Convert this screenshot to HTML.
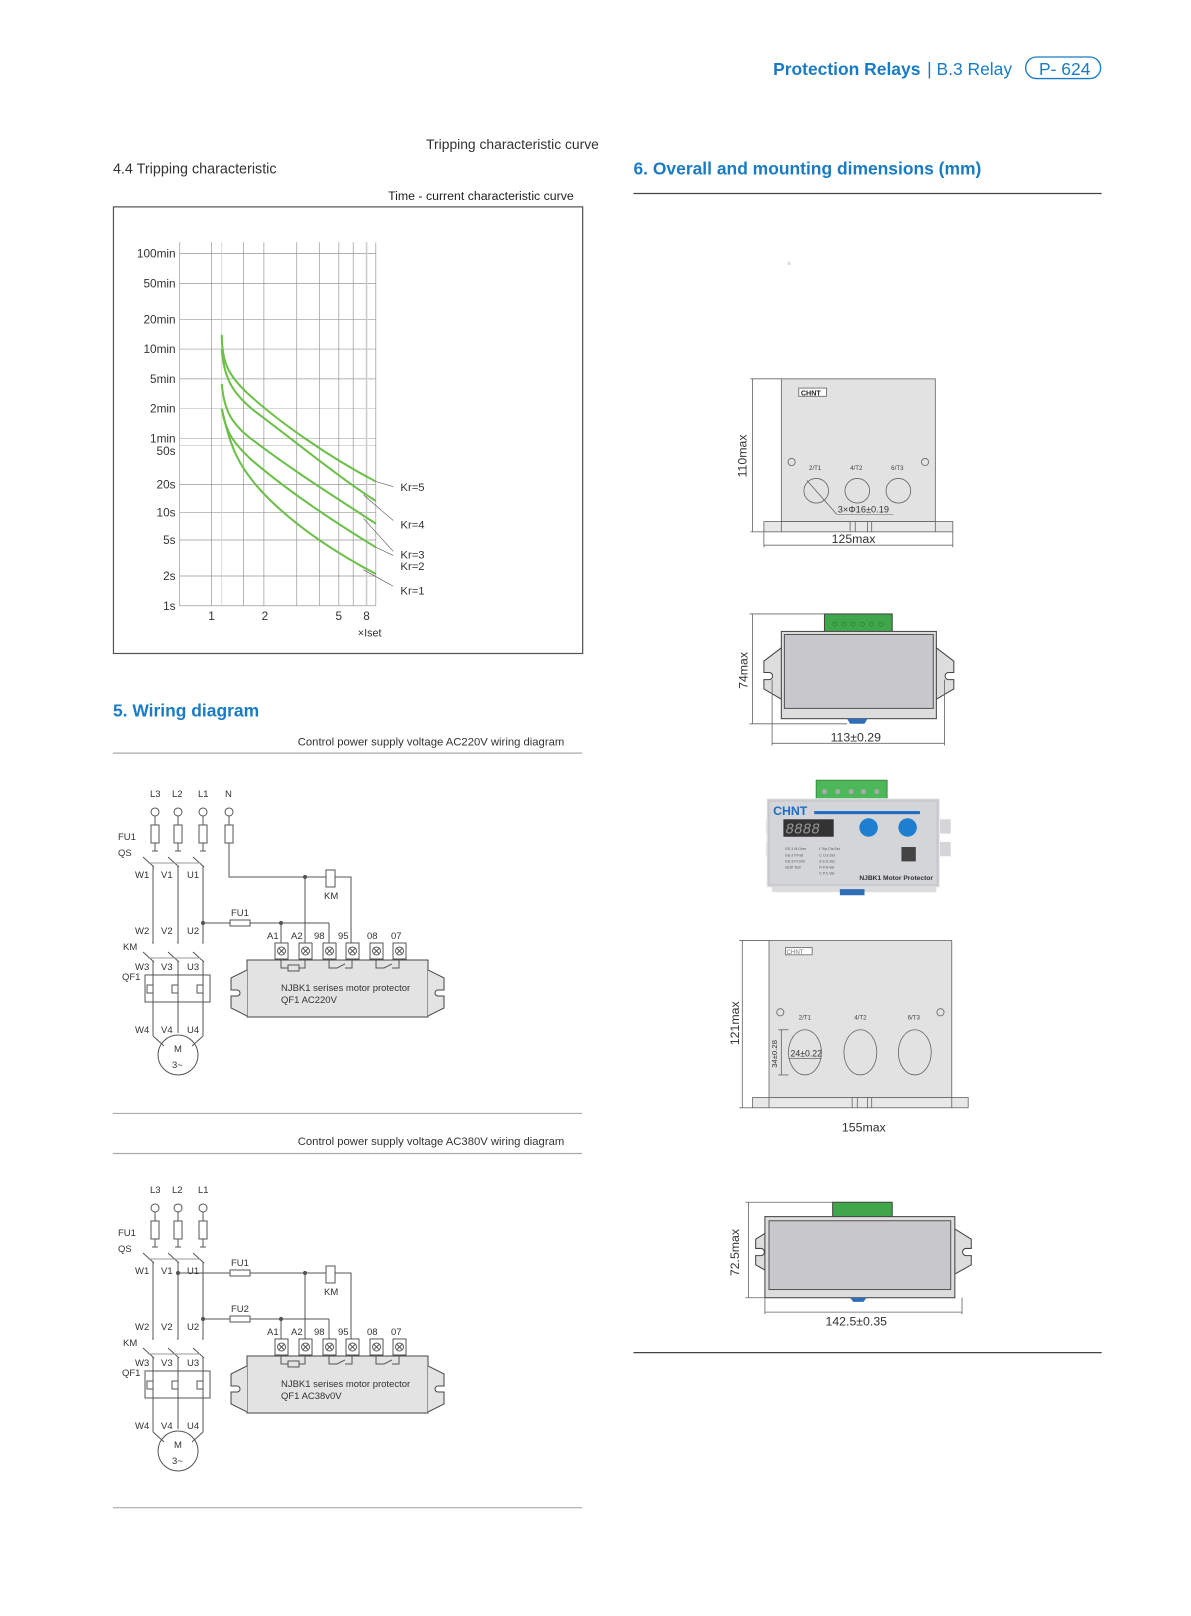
<!DOCTYPE html>
<html><head><meta charset="utf-8"><style>
html,body{margin:0;padding:0;background:#fff;}
svg{display:block;font-family:"Liberation Sans",sans-serif;}
</style></head><body>
<svg width="1191" height="1616" viewBox="0 0 1160 1574" xmlns="http://www.w3.org/2000/svg">
<defs>
<g id="wire" fill="none" stroke="#555" stroke-width="1">
  <circle cx="155" cy="812" r="4"/><circle cx="178" cy="812" r="4"/><circle cx="203" cy="812" r="4"/>
  <line x1="155" y1="816" x2="155" y2="825"/><line x1="178" y1="816" x2="178" y2="825"/><line x1="203" y1="816" x2="203" y2="825"/>
  <rect x="151" y="825" width="8" height="18"/><rect x="174" y="825" width="8" height="18"/><rect x="199" y="825" width="8" height="18"/>
  <line x1="155" y1="843" x2="155" y2="851"/><line x1="178" y1="843" x2="178" y2="851"/><line x1="203" y1="843" x2="203" y2="851"/>
  <line x1="152" y1="851" x2="158" y2="851"/><line x1="175" y1="851" x2="181" y2="851"/><line x1="200" y1="851" x2="206" y2="851"/>
  <line x1="143" y1="857" x2="154" y2="867"/><line x1="168" y1="857" x2="179" y2="867"/><line x1="193" y1="857" x2="204" y2="867"/>
  <line x1="148" y1="863" x2="200" y2="863" stroke="#999"/>
  <line x1="153" y1="866" x2="153" y2="940"/><line x1="178" y1="866" x2="178" y2="940"/><line x1="203" y1="866" x2="203" y2="940"/>
  <path d="M153 940 v3 h-1 M178 940 v3 h-1 M203 940 v3 h-1"/>
  <line x1="143" y1="952" x2="154" y2="962"/><line x1="168" y1="952" x2="179" y2="962"/><line x1="193" y1="952" x2="204" y2="962"/>
  <line x1="148" y1="958" x2="200" y2="958" stroke="#999"/>
  <line x1="153" y1="961" x2="153" y2="1036"/><line x1="178" y1="961" x2="178" y2="1033"/><line x1="203" y1="961" x2="203" y2="1036"/>
  <rect x="145" y="975" width="65" height="27"/>
  <path d="M153 985 h-6 v8 h6 M178 985 h-6 v8 h6 M203 985 h-6 v8 h6" />
  <path d="M153 1036 L164 1046 M203 1036 L192 1046"/>
  <circle cx="178" cy="1055" r="20"/>
  <circle cx="203" cy="923" r="1.6" fill="#555"/>
  <line x1="203" y1="923" x2="230" y2="923"/>
  <rect x="230" y="920" width="20" height="6"/>
  <line x1="250" y1="923" x2="329" y2="923"/>
  <line x1="329" y1="923" x2="329" y2="943"/>
  <circle cx="281" cy="923" r="1.6" fill="#555"/>
  <line x1="281" y1="923" x2="281" y2="943"/>
  <line x1="305" y1="877" x2="305" y2="943"/>
  <circle cx="305" cy="877" r="1.6" fill="#555"/>
  <rect x="326" y="870" width="9" height="17"/>
  <path d="M335 877 h16 v66"/>
  <g>
   <rect x="275" y="943" width="13" height="16"/><circle cx="281.5" cy="951" r="4"/><path d="M279 948.5l5 5M284 948.5l-5 5"/>
   <rect x="299" y="943" width="13" height="16"/><circle cx="305.5" cy="951" r="4"/><path d="M303 948.5l5 5M308 948.5l-5 5"/>
   <rect x="323" y="943" width="13" height="16"/><circle cx="329.5" cy="951" r="4"/><path d="M327 948.5l5 5M332 948.5l-5 5"/>
   <rect x="346" y="943" width="13" height="16"/><circle cx="352.5" cy="951" r="4"/><path d="M350 948.5l5 5M355 948.5l-5 5"/>
   <rect x="370" y="943" width="13" height="16"/><circle cx="376.5" cy="951" r="4"/><path d="M374 948.5l5 5M379 948.5l-5 5"/>
   <rect x="393" y="943" width="13" height="16"/><circle cx="399.5" cy="951" r="4"/><path d="M397 948.5l5 5M402 948.5l-5 5"/>
  </g>
  <path d="M247 960 H428 V1017 H247 Z" fill="#e3e3e3" stroke="#444"/>
  <path d="M247 970 L231 978 V990 h6 a3 3 0 0 1 0 6 h-6 V1008 L247 1016" fill="#e3e3e3" stroke="#444"/>
  <path d="M428 970 L444 978 V990 h-6 a3 3 0 0 0 0 6 h6 V1008 L428 1016" fill="#e3e3e3" stroke="#444"/>
  <path d="M281 959 v9 h7 M299 968 h6 v-9"/><rect x="288" y="965" width="11" height="6"/>
  <path d="M329 959 v9 h8 l8 -4 M345 968 h7 v-9"/>
  <path d="M376 959 v9 h8 l8 -4 M392 968 h7 v-9"/>
</g>
</defs>

<text x="753" y="73" font-size="17" font-weight="bold" fill="#1a7bc4">Protection Relays</text>
<text x="903" y="73" font-size="17" fill="#1a7bc4">| B.3 Relay</text>
<rect x="999" y="55.5" width="73" height="21" rx="10.5" fill="none" stroke="#1a7bc4" stroke-width="1.3"/>
<text x="1012" y="73" font-size="17" fill="#1a7bc4">P- 624</text>

<text x="415" y="145" font-size="13.5" fill="#333">Tripping characteristic curve</text>
<text x="110" y="169" font-size="14" fill="#333">4.4 Tripping characteristic</text>
<text x="378" y="195" font-size="12" fill="#222">Time - current characteristic curve</text>
<rect x="110.5" y="201.5" width="457" height="435" fill="none" stroke="#555" stroke-width="1.2"/>

<g stroke="#999" stroke-width="0.7">
 <line x1="175" y1="247" x2="366" y2="247"/><line x1="175" y1="276" x2="366" y2="276"/>
 <line x1="175" y1="311" x2="366" y2="311"/><line x1="175" y1="340" x2="366" y2="340"/>
 <line x1="175" y1="369" x2="366" y2="369"/><line x1="175" y1="398" x2="366" y2="398" stroke="#ccc"/>
 <line x1="175" y1="427" x2="366" y2="427" stroke="#bbb"/><line x1="175" y1="434" x2="366" y2="434" stroke="#ccc"/>
 <line x1="175" y1="472" x2="366" y2="472"/><line x1="175" y1="499" x2="366" y2="499"/>
 <line x1="175" y1="526" x2="366" y2="526"/><line x1="175" y1="561" x2="366" y2="561"/>
 <line x1="175" y1="590" x2="366" y2="590"/>
 <line x1="175" y1="236" x2="175" y2="590"/><line x1="206" y1="236" x2="206" y2="590"/>
 <line x1="216" y1="236" x2="216" y2="590" stroke="#ccc"/>
 <line x1="237" y1="236" x2="237" y2="590"/><line x1="257" y1="236" x2="257" y2="590"/>
 <line x1="289" y1="236" x2="289" y2="590"/><line x1="311" y1="236" x2="311" y2="590"/>
 <line x1="330" y1="236" x2="330" y2="590"/><line x1="344" y1="236" x2="344" y2="590"/>
 <line x1="357" y1="236" x2="357" y2="590" stroke="#ccc" stroke-width="1.5"/>
 <line x1="366" y1="236" x2="366" y2="590"/>
</g>
<g font-size="11.5" fill="#333" text-anchor="end">
 <text x="171" y="251">100min</text><text x="171" y="280">50min</text><text x="171" y="315">20min</text>
 <text x="171" y="344">10min</text><text x="171" y="373">5min</text><text x="171" y="402">2min</text>
 <text x="171" y="431">1min</text><text x="171" y="443">50s</text><text x="171" y="476">20s</text>
 <text x="171" y="503">10s</text><text x="171" y="530">5s</text><text x="171" y="565">2s</text><text x="171" y="594">1s</text>
</g>
<g font-size="11.5" fill="#333" text-anchor="middle">
 <text x="206" y="604">1</text><text x="258" y="604">2</text><text x="330" y="604">5</text><text x="357" y="604">8</text>
 <text x="360" y="620" font-size="10.5">×Iset</text>
</g>
<g fill="none" stroke="#6cc04a" stroke-width="2">
 <path d="M216 326 C216 352 222 365 240 382 C270 410 320 445 366 469"/>
 <path d="M216 340 C218 370 228 385 250 402 C285 428 330 465 366 488"/>
 <path d="M216 374 C218 400 226 414 248 430 C285 458 320 480 366 510"/>
 <path d="M216 398 C220 422 228 432 245 448 C280 478 320 505 366 533"/>
 <path d="M216 398 C224 435 232 455 258 482 C290 515 330 540 366 559"/>
</g>
<g stroke="#555" stroke-width="0.6">
 <line x1="366" y1="469" x2="383" y2="474"/>
 <line x1="354" y1="482" x2="383" y2="507"/>
 <line x1="354" y1="505" x2="383" y2="537"/>
 <line x1="366" y1="533" x2="383" y2="541"/>
 <line x1="354" y1="555" x2="383" y2="571"/>
</g>
<g font-size="11" fill="#333">
 <text x="390" y="478">Kr=5</text><text x="390" y="515">Kr=4</text>
 <text x="390" y="544">Kr=3</text><text x="390" y="555">Kr=2</text><text x="390" y="579">Kr=1</text>
</g>

<text x="110" y="698" font-size="17" font-weight="bold" fill="#1a7bc4">5. Wiring diagram</text>
<text x="290" y="726" font-size="11" fill="#333">Control power supply voltage AC220V wiring diagram</text>
<text x="290" y="1115" font-size="11" fill="#333">Control power supply voltage AC380V wiring diagram</text>
<g stroke="#aaa" stroke-width="1.2">
 <line x1="110" y1="733.5" x2="567" y2="733.5"/><line x1="110" y1="1084.5" x2="567" y2="1084.5"/>
 <line x1="110" y1="1123.5" x2="567" y2="1123.5"/><line x1="110" y1="1468.5" x2="567" y2="1468.5"/>
</g>

<g transform="scale(0.974)">
 <use href="#wire"/>
 <g fill="none" stroke="#555">
  <circle cx="229" cy="812" r="4"/><line x1="229" y1="816" x2="229" y2="825"/>
  <rect x="225" y="825" width="8" height="18"/>
  <path d="M229 843 V877 H326"/>
 </g>
 <g font-size="9.5" fill="#333">
  <text x="150" y="797">L3</text><text x="172" y="797">L2</text><text x="198" y="797">L1</text><text x="225" y="797">N</text>
  <text x="118" y="840">FU1</text><text x="118" y="856">QS</text>
  <text x="135" y="878">W1</text><text x="161" y="878">V1</text><text x="187" y="878">U1</text>
  <text x="324" y="899">KM</text><text x="231" y="916">FU1</text>
  <text x="135" y="934">W2</text><text x="161" y="934">V2</text><text x="187" y="934">U2</text>
  <text x="123" y="950">KM</text>
  <text x="135" y="970">W3</text><text x="161" y="970">V3</text><text x="187" y="970">U3</text>
  <text x="122" y="980">QF1</text>
  <text x="135" y="1033">W4</text><text x="161" y="1033">V4</text><text x="187" y="1033">U4</text>
  <text x="174" y="1052">M</text><text x="172" y="1068">3~</text>
  <text x="267" y="939">A1</text><text x="291" y="939">A2</text><text x="314" y="939">98</text><text x="338" y="939">95</text><text x="367" y="939">08</text><text x="391" y="939">07</text>
  <text x="281" y="991">NJBK1 serises motor protector</text><text x="281" y="1003">QF1  AC220V</text>
 </g>

 <g transform="translate(0,396)">
  <use href="#wire"/>
  <g fill="none" stroke="#555">
   <circle cx="178" cy="877" r="1.6" fill="#555"/>
   <line x1="178" y1="877" x2="230" y2="877"/>
   <rect x="230" y="874" width="20" height="6"/>
   <line x1="250" y1="877" x2="326" y2="877"/>
  </g>
  <g font-size="9.5" fill="#333">
   <text x="150" y="797">L3</text><text x="172" y="797">L2</text><text x="198" y="797">L1</text>
   <text x="118" y="840">FU1</text><text x="118" y="856">QS</text>
   <text x="135" y="878">W1</text><text x="161" y="878">V1</text><text x="187" y="878">U1</text>
   <text x="231" y="870">FU1</text>
   <text x="324" y="899">KM</text><text x="231" y="916">FU2</text>
   <text x="135" y="934">W2</text><text x="161" y="934">V2</text><text x="187" y="934">U2</text>
   <text x="123" y="950">KM</text>
   <text x="135" y="970">W3</text><text x="161" y="970">V3</text><text x="187" y="970">U3</text>
   <text x="122" y="980">QF1</text>
   <text x="135" y="1033">W4</text><text x="161" y="1033">V4</text><text x="187" y="1033">U4</text>
   <text x="174" y="1052">M</text><text x="172" y="1068">3~</text>
   <text x="267" y="939">A1</text><text x="291" y="939">A2</text><text x="314" y="939">98</text><text x="338" y="939">95</text><text x="367" y="939">08</text><text x="391" y="939">07</text>
   <text x="281" y="991">NJBK1 serises motor protector</text><text x="281" y="1003">QF1  AC38v0V</text>
  </g>
 </g>
</g>

<text x="617" y="170" font-size="17" font-weight="bold" fill="#1a7bc4">6. Overall and mounting dimensions (mm)</text>
<line x1="617" y1="188.5" x2="1073" y2="188.5" stroke="#444" stroke-width="1.2"/>
<line x1="617" y1="1317.5" x2="1073" y2="1317.5" stroke="#444" stroke-width="1.2"/>
<rect x="767" y="255" width="3" height="3" fill="#ddd"/>

<g stroke="#666" stroke-width="0.8">
 <rect x="761" y="369" width="150" height="139" fill="#e2e2e2"/>
 <rect x="744" y="508" width="184" height="10" fill="#e8e8e8"/>
 <line x1="761" y1="508" x2="761" y2="518"/><line x1="911" y1="508" x2="911" y2="518"/>
 <line x1="828" y1="508" x2="828" y2="518"/><line x1="833" y1="508" x2="833" y2="518"/><line x1="845" y1="508" x2="845" y2="518"/><line x1="849" y1="508" x2="849" y2="518"/>
 <rect x="778" y="378" width="27" height="8" fill="#fff"/>
 <circle cx="795" cy="478" r="12" fill="none"/><circle cx="835" cy="478" r="12" fill="none"/><circle cx="875" cy="478" r="12" fill="none"/>
 <line x1="786" y1="468" x2="815" y2="501"/><line x1="815" y1="501" x2="870" y2="501" stroke-width="0.5"/>
 <circle cx="771" cy="450" r="3.5" fill="none"/><circle cx="901" cy="450" r="3.5" fill="none"/>
 <line x1="731" y1="369" x2="761" y2="369"/><line x1="733" y1="369" x2="733" y2="518"/><line x1="731" y1="518" x2="744" y2="518"/>
 <line x1="744" y1="518" x2="744" y2="533"/><line x1="928" y1="518" x2="928" y2="533"/><line x1="744" y1="531" x2="928" y2="531"/>
</g>
<text x="780" y="385" font-size="7" font-weight="bold" fill="#222">CHNT</text>
<g font-size="6" fill="#444"><text x="788" y="458">2/T1</text><text x="828" y="458">4/T2</text><text x="868" y="458">6/T3</text></g>
<text x="816" y="499" font-size="9" fill="#333">3×Φ16±0.19</text>
<text x="810" y="529" font-size="12" fill="#333">125max</text>
<text transform="translate(727,465) rotate(-90)" font-size="12" fill="#333">110max</text>

<g stroke="#444" stroke-width="1">
 <rect x="803" y="598" width="66" height="18" fill="#3fa64a"/>
 <path d="M761 631 L744 644 V655 h5 a3 3 0 0 1 0 7 h-5 V671 L761 681" fill="#ddd"/>
 <path d="M912 631 L929 644 V655 h-5 a3 3 0 0 0 0 7 h5 V671 L912 681" fill="#ddd"/>
 <rect x="761" y="615" width="151" height="85" fill="#ddd"/>
 <rect x="764" y="618" width="145" height="72" fill="#c8c8cc" stroke="#555"/>
</g>
<path d="M825 700 h20 l-3 5 h-14 z" fill="#2f6fb7"/>
<g fill="none" stroke="#2a7a30" stroke-width="0.6">
 <circle cx="813" cy="608" r="2"/><circle cx="822" cy="608" r="2"/><circle cx="831" cy="608" r="2"/><circle cx="840" cy="608" r="2"/><circle cx="849" cy="608" r="2"/><circle cx="858" cy="608" r="2"/>
</g>
<g stroke="#666" stroke-width="0.8">
 <line x1="730" y1="598" x2="803" y2="598"/><line x1="733" y1="598" x2="733" y2="705"/><line x1="730" y1="705" x2="825" y2="705"/>
 <line x1="752" y1="662" x2="752" y2="726"/><line x1="920" y1="662" x2="920" y2="726"/><line x1="752" y1="724" x2="920" y2="724"/>
</g>
<text x="809" y="722" font-size="12" fill="#333">113±0.29</text>
<text transform="translate(728,671) rotate(-90)" font-size="12" fill="#333">74max</text>

<rect x="795" y="760" width="69" height="18" fill="#4cb85a" stroke="#3a8a40"/>
<g fill="#aaa"><circle cx="803" cy="771" r="2.5"/><circle cx="816" cy="771" r="2.5"/><circle cx="829" cy="771" r="2.5"/><circle cx="841" cy="771" r="2.5"/><circle cx="854" cy="771" r="2.5"/></g>
<path d="M746 798 h10 v14 h-10 z M746 820 h10 v14 h-10 z M913 798 h13 v14 h-13 z M913 820 h13 v14 h-13 z" fill="#d6d6d8"/>
<rect x="747" y="778" width="168" height="86" fill="#c9cacd" stroke="#eee"/>
<rect x="750" y="781" width="162" height="80" fill="#d4d5d8"/>
<rect x="752" y="864" width="160" height="5" fill="#dcdcdc"/>
<path d="M818 866 h24 v6 h-24 z" fill="#2e6db7"/>
<text x="753" y="794" font-size="12" font-weight="bold" fill="#1c6dc3">CHNT</text>
<rect x="793" y="790" width="103" height="3" fill="#1c6dc3"/>
<rect x="763" y="798" width="49" height="17" fill="#333"/>
<text x="765" y="812" font-size="14" font-style="italic" fill="#999" font-family="Liberation Mono,monospace">8888</text>
<circle cx="846" cy="806" r="9" fill="#1e7fd0"/><circle cx="884" cy="806" r="9" fill="#1e7fd0"/>
<rect x="878" y="825" width="14" height="14" fill="#444"/>
<g font-size="3.5" fill="#555"><text x="765" y="828">EE-1 M.Over</text><text x="765" y="834">EE-2 P.Fail</text><text x="765" y="840">EE-3 P.Unbl</text><text x="765" y="846">bESt Test</text>
<text x="798" y="828">t Trip.Cls.Set</text><text x="798" y="834">C Cur.Set</text><text x="798" y="840">d S.D.Set</text><text x="798" y="846">R P.A.Val</text><text x="798" y="852">C P.C.Val</text></g>
<text x="837" y="857" font-size="6.5" font-weight="bold" fill="#333">NJBK1 Motor Protector</text>

<g stroke="#666" stroke-width="0.8">
 <rect x="749" y="916" width="178" height="153" fill="#e2e2e2"/>
 <rect x="733" y="1069" width="210" height="10" fill="#e8e8e8"/>
 <line x1="749" y1="1069" x2="749" y2="1079"/><line x1="927" y1="1069" x2="927" y2="1079"/>
 <line x1="830" y1="1069" x2="830" y2="1079"/><line x1="835" y1="1069" x2="835" y2="1079"/><line x1="845" y1="1069" x2="845" y2="1079"/><line x1="849" y1="1069" x2="849" y2="1079"/>
 <rect x="765" y="923" width="26" height="7" fill="#fff"/>
 <ellipse cx="784" cy="1025" rx="16" ry="22" fill="none"/><ellipse cx="838" cy="1025" rx="16" ry="22" fill="none"/><ellipse cx="891" cy="1025" rx="16" ry="22" fill="none"/>
 <circle cx="760" cy="986" r="3.5" fill="none"/><circle cx="916" cy="986" r="3.5" fill="none"/>
 <line x1="758" y1="1003" x2="768" y2="1003"/><line x1="758" y1="1047" x2="768" y2="1047"/><line x1="761" y1="1003" x2="761" y2="1047"/>
 <line x1="768" y1="1031" x2="800" y2="1031"/>
 <line x1="720" y1="916" x2="749" y2="916"/><line x1="723" y1="916" x2="723" y2="1079"/><line x1="720" y1="1079" x2="733" y2="1079"/>
</g>
<text x="766" y="929" font-size="6" fill="#777">CHNT</text>
<g font-size="6" fill="#444"><text x="778" y="993">2/T1</text><text x="832" y="993">4/T2</text><text x="884" y="993">6/T3</text></g>
<text x="770" y="1029" font-size="8.5" fill="#333">24±0.22</text>
<text transform="translate(757,1040) rotate(-90)" font-size="7.5" fill="#333">34±0.28</text>
<text x="820" y="1102" font-size="12" fill="#333">155max</text>
<text transform="translate(720,1018) rotate(-90)" font-size="12" fill="#333">121max</text>

<g stroke="#444" stroke-width="1">
 <rect x="811" y="1171" width="58" height="15" fill="#3fa64a"/>
 <path d="M752 1197 L736 1207 V1216 h5 a3 3 0 0 1 0 7 h-5 V1232 L752 1241" fill="#ddd"/>
 <path d="M930 1197 L946 1207 V1216 h-5 a3 3 0 0 0 0 7 h5 V1232 L930 1241" fill="#ddd"/>
 <rect x="745" y="1185" width="185" height="79" fill="#ddd"/>
 <rect x="749" y="1189" width="177" height="67" fill="#c8c8cc" stroke="#555"/>
</g>
<path d="M828 1264 h16 l-3 4 h-10 z" fill="#2f6fb7"/>
<g stroke="#666" stroke-width="0.8">
 <line x1="726" y1="1171" x2="811" y2="1171"/><line x1="729" y1="1171" x2="729" y2="1264"/><line x1="726" y1="1264" x2="745" y2="1264"/>
 <line x1="745" y1="1264" x2="745" y2="1280"/><line x1="937" y1="1264" x2="937" y2="1280"/><line x1="745" y1="1278" x2="937" y2="1278"/>
</g>
<text x="804" y="1291" font-size="12" fill="#333">142.5±0.35</text>
<text transform="translate(720,1243) rotate(-90)" font-size="12" fill="#333">72.5max</text>
</svg>
</body></html>
